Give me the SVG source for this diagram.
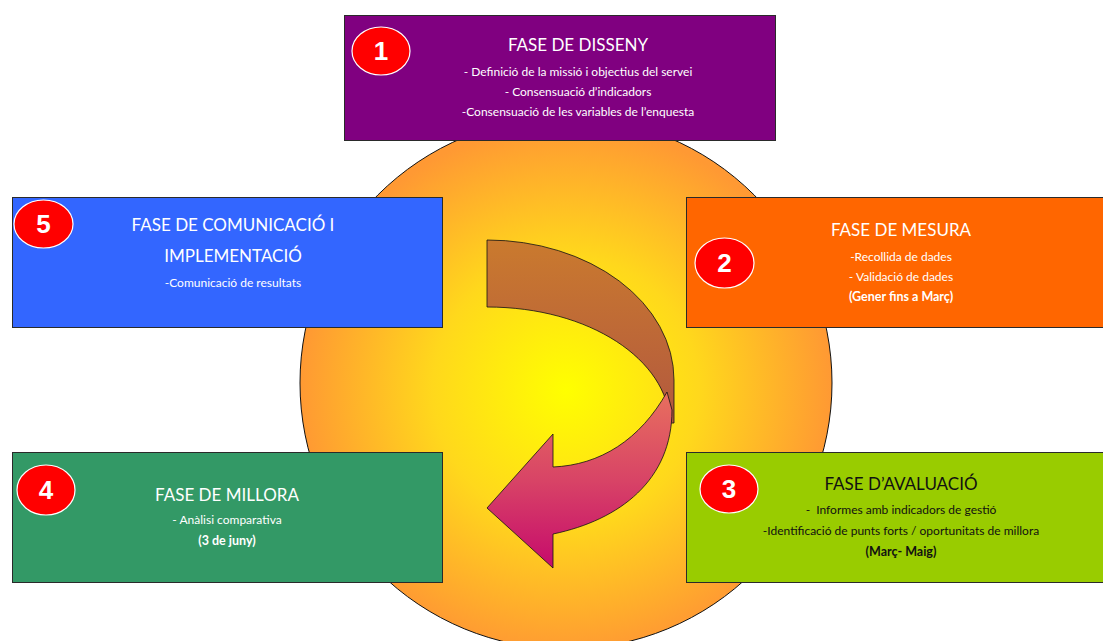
<svg xmlns="http://www.w3.org/2000/svg" width="1103" height="641" viewBox="0 0 1103 641">
  <defs>
    <radialGradient id="sun" cx="566" cy="390" r="266" gradientUnits="userSpaceOnUse">
      <stop offset="0" stop-color="#FFFF00"/>
      <stop offset="0.5" stop-color="#FFD81C"/>
      <stop offset="1" stop-color="#FF9933"/>
    </radialGradient>
    <linearGradient id="back" x1="0" y1="240" x2="0" y2="423" gradientUnits="userSpaceOnUse">
      <stop offset="0" stop-color="#CA7A2E"/>
      <stop offset="1" stop-color="#B2583F"/>
    </linearGradient>
    <linearGradient id="front" x1="0" y1="392" x2="0" y2="568" gradientUnits="userSpaceOnUse">
      <stop offset="0" stop-color="#E8705E"/>
      <stop offset="0.5" stop-color="#D84466"/>
      <stop offset="1" stop-color="#C60A6C"/>
    </linearGradient>
  </defs>
  <style>
    .box { stroke: #2a2a2a; stroke-width: 1; }
    .badge { fill: #FF0000; stroke: #FFFFFF; stroke-width: 1.2; }
    .num { font-family: "Liberation Sans", Arial, sans-serif; font-weight: bold; font-size: 26px; fill: #FFFFFF; text-anchor: middle; }
    .title { font-family: Lato, "Noto Sans", sans-serif; font-size: 17px; fill: #FFFFFF; text-anchor: middle; }
    .body { font-family: Lato, "Noto Sans", sans-serif; font-size: 12px; fill: #FFFFFF; text-anchor: middle; }
    .bold { font-weight: bold; font-size: 12.5px; }
    .dark { fill: #111111; }
    .arrow { stroke: #111111; stroke-width: 0.8; stroke-linejoin: round; }
  </style>

  <g id="cycle-circle">
    <circle cx="566" cy="383" r="266" fill="url(#sun)" stroke="#111111" stroke-width="1"/>
  </g>

  <g id="node-1">
    <rect class="box" x="344.5" y="15.5" width="431" height="125" fill="#800080"/>
    <ellipse class="badge" cx="381" cy="51" rx="29" ry="24"/>
    <text class="num" x="381" y="60">1</text>
    <text class="title" x="578" y="51">FASE DE DISSENY</text>
    <text class="body" x="578" y="76">- Definició de la missió i objectius del servei</text>
    <text class="body" x="578" y="96">- Consensuació d’indicadors</text>
    <text class="body" x="578" y="116">-Consensuació de les variables de l’enquesta</text>
  </g>

  <g id="node-2">
    <rect class="box" x="686.5" y="197.5" width="420" height="130" fill="#FF6600"/>
    <ellipse class="badge" cx="724.5" cy="263" rx="29.5" ry="25"/>
    <text class="num" x="724.5" y="272">2</text>
    <text class="title" x="901" y="236">FASE DE MESURA</text>
    <text class="body" x="901" y="261">-Recollida de dades</text>
    <text class="body" x="901" y="281">- Validació de dades</text>
    <text class="body bold" x="901" y="301">(Gener fins a Març)</text>
  </g>

  <g id="node-3">
    <rect class="box" x="686.5" y="452.5" width="420" height="130" fill="#99CC00"/>
    <ellipse class="badge" cx="729" cy="489" rx="29" ry="24"/>
    <text class="num" x="729" y="498">3</text>
    <text class="title dark" x="901" y="490">FASE D’AVALUACIÓ</text>
    <text class="body dark" x="901" y="514" xml:space="preserve">-  Informes amb indicadors de gestió</text>
    <text class="body dark" x="901" y="535">-Identificació de punts forts / oportunitats de millora</text>
    <text class="body bold dark" x="901" y="556">(Març- Maig)</text>
  </g>

  <g id="node-4">
    <rect class="box" x="12.5" y="452.5" width="430" height="130" fill="#339966"/>
    <ellipse class="badge" cx="46" cy="490" rx="29" ry="25"/>
    <text class="num" x="46" y="499">4</text>
    <text class="title" x="227" y="501">FASE DE MILLORA</text>
    <text class="body" x="227" y="524">- Anàlisi comparativa</text>
    <text class="body bold" x="227" y="545">(3 de juny)</text>
  </g>

  <g id="node-5">
    <rect class="box" x="12.5" y="197.5" width="430" height="130" fill="#3366FF"/>
    <ellipse class="badge" cx="43.5" cy="224" rx="29.5" ry="24"/>
    <text class="num" x="43.5" y="233">5</text>
    <text class="title" x="233" y="231">FASE DE COMUNICACIÓ I</text>
    <text class="title" x="233" y="262">IMPLEMENTACIÓ</text>
    <text class="body" x="233" y="287">-Comunicació de resultats</text>
  </g>

  <g id="connectors">
    <path class="arrow" fill="url(#back)" d="M487,240 A187,140 0 0 1 674,380 L674,423 L670,423 C668,360 590,307 487,307 Z"/>
    <path class="arrow" fill="url(#front)" d="M667,392 C640,440 600,465 553,467 L553,434 L487,508 L553,568 L553,534 C620,520 672,480 672,410 Z"/>
  </g>
</svg>
